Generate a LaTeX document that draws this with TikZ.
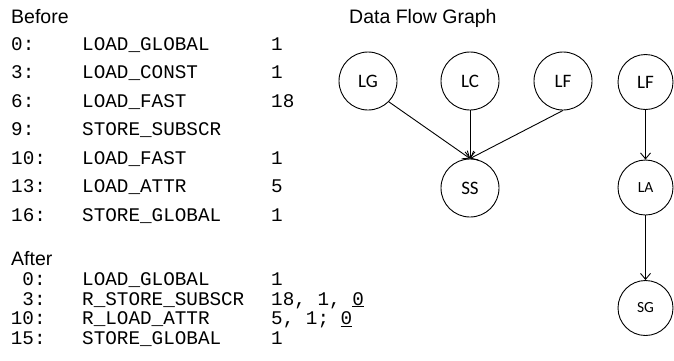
\documentclass[tikz,border=0pt]{standalone}
\usepackage{fontspec}
\setmainfont{Liberation Sans}
\newfontfamily\codefont{Liberation Mono}
\newfontfamily\nodefont{Carlito}
\usetikzlibrary{arrows.meta}
\tikzset{
  heading/.style={anchor=base west, inner sep=0pt, font=\fontsize{19.5}{22}\selectfont},
  codetext/.style={anchor=base west, inner sep=0pt, font=\codefont\fontsize{19.3}{22}\selectfont},
  codenum/.style={anchor=base east, inner sep=0pt, font=\codefont\fontsize{19.3}{22}\selectfont},
  bignode/.style={circle, draw, line width=0.9pt, minimum size=58pt, inner sep=0pt, font=\nodefont\fontsize{19}{22}\selectfont},
  smallnode/.style={circle, draw, line width=0.9pt, minimum size=55pt, inner sep=0pt, font=\nodefont\fontsize{15.5}{18}\selectfont},
  flow/.style={line width=0.9pt, -{Straight Barb[length=6pt,width=10pt]}}
}
\begin{document}
\begin{tikzpicture}[x=1pt,y=-1pt]
\useasboundingbox (0,0) rectangle (674,360);
% headings
\node[heading] (before) at (11,23) {Before};
\node[heading] (after) at (11,265) {After};
\node[heading] (dfg) at (349,23) {Data Flow Graph};
% Before listing
\node[codetext] (b0n) at (11,50) {0:};
\node[codetext] (b0o) at (82,50) {LOAD\_GLOBAL};
\node[codetext] (b0a) at (271,50) {1};
\node[codetext] (b1n) at (11,78.5) {3:};
\node[codetext] (b1o) at (82,78.5) {LOAD\_CONST};
\node[codetext] (b1a) at (271,78.5) {1};
\node[codetext] (b2n) at (11,107) {6:};
\node[codetext] (b2o) at (82,107) {LOAD\_FAST};
\node[codetext] (b2a) at (271,107) {18};
\node[codetext] (b3n) at (11,135.5) {9:};
\node[codetext] (b3o) at (82,135.5) {STORE\_SUBSCR};
\node[codetext] (b4n) at (11,164) {10:};
\node[codetext] (b4o) at (82,164) {LOAD\_FAST};
\node[codetext] (b4a) at (271,164) {1};
\node[codetext] (b5n) at (11,192.5) {13:};
\node[codetext] (b5o) at (82,192.5) {LOAD\_ATTR};
\node[codetext] (b5a) at (271,192.5) {5};
\node[codetext] (b6n) at (11,221) {16:};
\node[codetext] (b6o) at (82,221) {STORE\_GLOBAL};
\node[codetext] (b6a) at (271,221) {1};
% After listing
\node[codenum] (a0n) at (45.8,285.5) {0:};
\node[codetext] (a0o) at (82,285.5) {LOAD\_GLOBAL};
\node[codetext] (a0a) at (271,285.5) {1};
\node[codenum] (a1n) at (45.8,305) {3:};
\node[codetext] (a1o) at (82,305) {R\_STORE\_SUBSCR};
\node[codetext] (a1a) at (271,305) {18, 1, \underline{0}};
\node[codenum] (a2n) at (45.8,324.5) {10:};
\node[codetext] (a2o) at (82,324.5) {R\_LOAD\_ATTR};
\node[codetext] (a2a) at (271,324.5) {5, 1; \underline{0}};
\node[codenum] (a3n) at (45.8,344) {15:};
\node[codetext] (a3o) at (82,344) {STORE\_GLOBAL};
\node[codetext] (a3a) at (271,344) {1};
% Graph
\node[bignode] (LG) at (368,81) {LG};
\node[bignode] (LC) at (470,81) {LC};
\node[bignode] (LF) at (563,81) {LF};
\node[bignode, minimum size=55pt] (LF2) at (645.5,82) {LF};
\node[bignode] (SS) at (470,188) {SS};
\node[smallnode] (LA) at (645.5,187.5) {LA};
\node[smallnode] (SG) at (645.5,308) {SG};
\draw[flow] (LG.-45) -- (SS.north);
\draw[flow] (LC.south) -- (SS.north);
\draw[flow] (LF.south) -- (SS.north);
\draw[flow] (LF2.south) -- (LA.north);
\draw[flow] (LA.south) -- (SG.north);
\end{tikzpicture}
\end{document}
